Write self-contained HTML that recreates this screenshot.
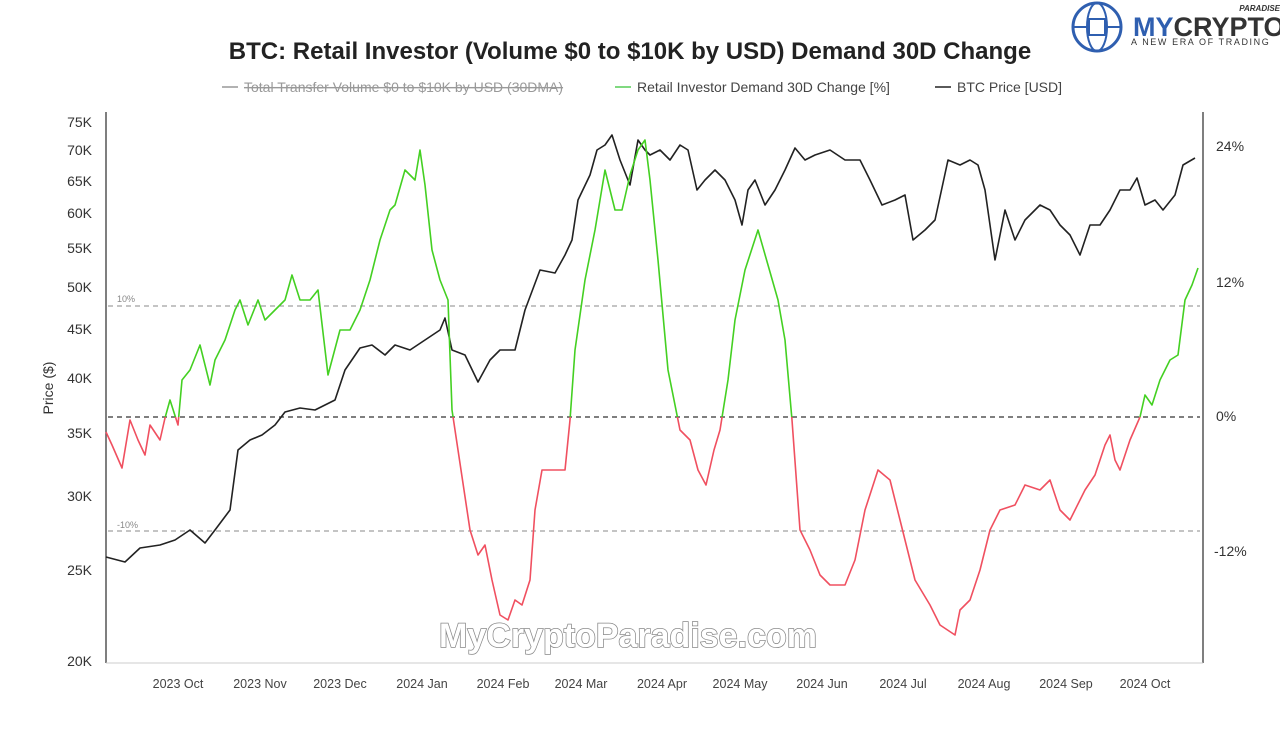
<!DOCTYPE html>
<html><head><meta charset="utf-8"><style>
body{margin:0;background:#fff;font-family:"Liberation Sans",sans-serif;}
</style></head><body>
<svg width="1280" height="727" viewBox="0 0 1280 727" xmlns="http://www.w3.org/2000/svg" font-family="Liberation Sans, sans-serif">
<rect width="1280" height="727" fill="#fff"/>
<text x="630" y="59" text-anchor="middle" font-size="24" font-weight="bold" fill="#222">BTC: Retail Investor (Volume $0 to $10K by USD) Demand 30D Change</text>
<g font-size="14" fill="#444">
<line x1="222" y1="87" x2="238" y2="87" stroke="#999" stroke-width="1.5"/>
<text x="244" y="92" fill="#999" text-decoration="line-through">Total Transfer Volume $0 to $10K by USD (30DMA)</text>
<line x1="615" y1="87" x2="631" y2="87" stroke="#5c5" stroke-width="1.5"/>
<text x="637" y="92">Retail Investor Demand 30D Change [%]</text>
<line x1="935" y1="87" x2="951" y2="87" stroke="#222" stroke-width="1.5"/>
<text x="957" y="92">BTC Price [USD]</text>
</g>
<line x1="106" y1="112" x2="106" y2="663" stroke="#555" stroke-width="1.5"/>
<line x1="1203" y1="112" x2="1203" y2="663" stroke="#555" stroke-width="1.5"/>
<line x1="106" y1="663" x2="1203" y2="663" stroke="#ccc"/>
<g stroke="#888" stroke-dasharray="5,4" stroke-width="1">
<line x1="108" y1="306" x2="1200" y2="306"/>
<line x1="108" y1="531" x2="1200" y2="531"/>
</g>
<line x1="108" y1="417" x2="1200" y2="417" stroke="#333" stroke-dasharray="5,4" stroke-width="1.3"/>
<text x="117" y="302" font-size="9" fill="#888">10%</text>
<text x="117" y="528" font-size="9" fill="#888">-10%</text>
<g font-size="14" fill="#333" text-anchor="end">
<text x="92" y="127">75K</text><text x="92" y="155">70K</text><text x="92" y="186">65K</text><text x="92" y="218">60K</text><text x="92" y="253">55K</text><text x="92" y="292">50K</text><text x="92" y="334">45K</text><text x="92" y="383">40K</text><text x="92" y="438">35K</text><text x="92" y="501">30K</text><text x="92" y="575">25K</text><text x="92" y="666">20K</text>
</g>
<g font-size="14" fill="#333">
<text x="1216" y="151">24%</text><text x="1216" y="287">12%</text><text x="1216" y="421">0%</text><text x="1214" y="556">-12%</text>
</g>
<text transform="translate(53,388) rotate(-90)" text-anchor="middle" font-size="14" fill="#333">Price ($)</text>
<g font-size="12.5" fill="#444" text-anchor="middle">
<text x="178" y="688">2023 Oct</text><text x="260" y="688">2023 Nov</text><text x="340" y="688">2023 Dec</text><text x="422" y="688">2024 Jan</text><text x="503" y="688">2024 Feb</text><text x="581" y="688">2024 Mar</text><text x="662" y="688">2024 Apr</text><text x="740" y="688">2024 May</text><text x="822" y="688">2024 Jun</text><text x="903" y="688">2024 Jul</text><text x="984" y="688">2024 Aug</text><text x="1066" y="688">2024 Sep</text><text x="1145" y="688">2024 Oct</text>
</g>
<defs>
<clipPath id="cg"><rect x="100" y="100" width="1110" height="317"/></clipPath>
<clipPath id="cr"><rect x="100" y="417" width="1110" height="260"/></clipPath>
</defs>
<polyline fill="none" stroke="#222" stroke-width="1.6" stroke-linejoin="round" points="106,557 125,562 140,548 160,545 175,540 190,530 205,543 215,530 230,510 238,450 250,440 262,435 275,425 285,412 300,408 315,410 325,405 335,400 345,370 360,348 372,345 385,355 395,345 410,350 425,340 440,330 445,318 452,350 465,355 478,382 490,360 500,350 515,350 525,310 540,270 555,273 565,255 572,240 578,200 590,175 597,150 605,145 612,135 620,160 630,185 638,140 645,150 650,155 660,150 670,160 680,145 688,150 697,190 705,180 715,170 725,180 735,200 742,225 748,190 755,180 765,205 775,190 785,170 795,148 805,160 815,155 830,150 845,160 860,160 870,180 882,205 895,200 905,195 913,240 925,230 935,220 948,160 960,165 970,160 978,165 985,190 995,260 1005,210 1015,240 1025,220 1040,205 1050,210 1060,225 1070,235 1080,255 1090,225 1100,225 1110,210 1120,190 1130,190 1137,178 1145,205 1155,200 1163,210 1175,195 1183,165 1195,158"/>
<g clip-path="url(#cg)"><polyline fill="none" stroke-width="1.6" stroke-linejoin="round" stroke="#44d022" points="106,432 112,445 122,468 130,420 138,440 145,455 150,425 160,440 165,418 170,400 178,425 182,380 190,370 200,345 210,385 215,360 225,340 235,310 240,300 248,325 258,300 265,320 275,310 285,300 292,275 300,300 310,300 318,290 328,375 340,330 350,330 360,310 370,280 380,240 390,210 395,205 405,170 415,180 420,150 425,185 432,250 440,280 448,300 452,410 458,450 470,530 478,555 485,545 492,580 500,615 508,620 515,600 522,605 530,580 535,510 542,470 552,470 565,470 570,420 575,350 585,280 595,230 605,170 615,210 622,210 630,175 638,150 645,140 650,180 658,260 668,370 680,430 690,440 698,470 706,485 714,450 720,430 728,380 735,320 745,270 758,230 768,265 778,300 785,340 792,420 800,530 810,550 820,575 830,585 845,585 855,560 865,510 878,470 890,480 900,520 915,580 930,605 940,625 955,635 960,610 970,600 980,570 990,530 1000,510 1015,505 1025,485 1040,490 1050,480 1060,510 1070,520 1085,490 1095,475 1105,445 1110,435 1115,460 1120,470 1130,440 1140,417 1145,395 1152,405 1160,380 1170,360 1178,355 1185,300 1192,285 1198,268"/></g>
<g clip-path="url(#cr)"><polyline fill="none" stroke-width="1.6" stroke-linejoin="round" stroke="#f05060" points="106,432 112,445 122,468 130,420 138,440 145,455 150,425 160,440 165,418 170,400 178,425 182,380 190,370 200,345 210,385 215,360 225,340 235,310 240,300 248,325 258,300 265,320 275,310 285,300 292,275 300,300 310,300 318,290 328,375 340,330 350,330 360,310 370,280 380,240 390,210 395,205 405,170 415,180 420,150 425,185 432,250 440,280 448,300 452,410 458,450 470,530 478,555 485,545 492,580 500,615 508,620 515,600 522,605 530,580 535,510 542,470 552,470 565,470 570,420 575,350 585,280 595,230 605,170 615,210 622,210 630,175 638,150 645,140 650,180 658,260 668,370 680,430 690,440 698,470 706,485 714,450 720,430 728,380 735,320 745,270 758,230 768,265 778,300 785,340 792,420 800,530 810,550 820,575 830,585 845,585 855,560 865,510 878,470 890,480 900,520 915,580 930,605 940,625 955,635 960,610 970,600 980,570 990,530 1000,510 1015,505 1025,485 1040,490 1050,480 1060,510 1070,520 1085,490 1095,475 1105,445 1110,435 1115,460 1120,470 1130,440 1140,417 1145,395 1152,405 1160,380 1170,360 1178,355 1185,300 1192,285 1198,268"/></g>
<text x="628" y="647" text-anchor="middle" font-size="34" font-weight="bold" fill="#fff" stroke="#888" stroke-width="1.5" paint-order="stroke">MyCryptoParadise.com</text>
<g transform="translate(1072,2)">
<circle cx="25" cy="25" r="24" fill="none" stroke="#2f5fb0" stroke-width="3"/>
<ellipse cx="25" cy="25" rx="10" ry="24" fill="none" stroke="#2f5fb0" stroke-width="2"/>
<line x1="1" y1="25" x2="49" y2="25" stroke="#2f5fb0" stroke-width="2"/>
<rect x="17" y="17" width="16" height="16" fill="#fff" stroke="#2f5fb0" stroke-width="2"/>
</g>
<text x="1133" y="36" font-size="27" font-weight="bold" fill="#2f5fb0">MY<tspan fill="#333">CRYPTO</tspan></text>
<text x="1280" y="11" text-anchor="end" font-size="8" font-weight="bold" font-style="italic" fill="#333">PARADISE</text>
<text x="1131" y="45" font-size="9" fill="#333" letter-spacing="1.6">A NEW ERA OF TRADING</text>
</svg>
</body></html>
